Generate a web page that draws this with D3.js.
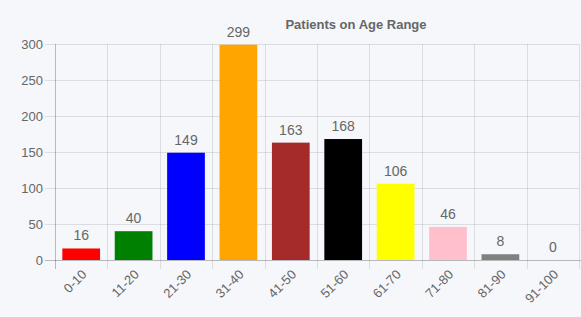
<!DOCTYPE html>
<html>
<head>
<meta charset="utf-8">
<script src="https://cdn.jsdelivr.net/npm/d3@7"></script>
<style>
  html, body { margin: 0; padding: 0; background: #f5f7fb; }
  svg { display: block; }
  text { font-family: "Liberation Sans", Arial, sans-serif; fill: #666; }
</style>
</head>
<body>
<div id="chart"></div>
<script>
const categories = ['0-10', '11-20', '21-30', '31-40', '41-50', '51-60', '61-70', '71-80', '81-90', '91-100'];
const patients = [16, 40, 149, 299, 163, 168, 106, 46, 8, 0];
const barColors = ['red', 'green', 'blue', 'orange', 'brown', 'black', 'yellow', 'pink', 'gray', 'gray'];
const yTicks = [0, 50, 100, 150, 200, 250, 300];

const W = 581, H = 317;
const mLeft = 55, mRight = 579, mTop = 44, mBottom = 260;

const svg = d3.select('#chart').append('svg').attr('width', W).attr('height', H);

const x = d3.scaleBand().domain(categories).range([mLeft, mRight]);
const y = d3.scaleLinear().domain([0, 300]).range([mBottom, mTop]);

// horizontal grid + y labels
const gy = svg.append('g');
gy.selectAll('line').data(yTicks).enter().append('line')
  .attr('x1', mLeft - 10).attr('x2', mRight)
  .attr('y1', d => y(d) + 0.5).attr('y2', d => y(d) + 0.5)
  .attr('stroke', d => d === 0 ? 'rgba(0,0,0,0.25)' : 'rgba(0,0,0,0.1)');
gy.selectAll('text').data(yTicks).enter().append('text')
  .attr('x', mLeft - 12).attr('y', d => y(d))
  .attr('dy', '0.35em').attr('text-anchor', 'end')
  .style('font-size', '13px')
  .text(d => d);
svg.append('line')
  .attr('x1', mRight).attr('x2', W)
  .attr('y1', mBottom + 0.5).attr('y2', mBottom + 0.5)
  .attr('stroke', 'rgba(0,0,0,0.25)');

// vertical grid at category boundaries
const bounds = categories.map(c => x(c)).concat([mRight]);
svg.append('g').selectAll('line').data(bounds).enter().append('line')
  .attr('x1', d => Math.round(d) + 0.5).attr('x2', d => Math.round(d) + 0.5)
  .attr('y1', mTop).attr('y2', mBottom + 9)
  .attr('stroke', (d, i) => i === 0 ? 'rgba(0,0,0,0.25)' : 'rgba(0,0,0,0.1)');

// bars
const bw = x.bandwidth() * 0.72;
svg.append('g').selectAll('rect').data(patients).enter().append('rect')
  .attr('x', (d, i) => x(categories[i]) + (x.bandwidth() - bw) / 2)
  .attr('y', d => y(d))
  .attr('width', bw)
  .attr('height', d => mBottom - y(d))
  .attr('fill', (d, i) => barColors[i]);

// value labels
svg.append('g').selectAll('text').data(patients).enter().append('text')
  .attr('x', (d, i) => x(categories[i]) + x.bandwidth() / 2)
  .attr('y', d => y(d) - 8)
  .attr('text-anchor', 'middle')
  .style('font-size', '14px')
  .text(d => d);

// x labels rotated
svg.append('g').selectAll('text').data(categories).enter().append('text')
  .attr('transform', d => `translate(${x(d) + x.bandwidth() / 2 + 3},${mBottom + 12}) rotate(-45)`)
  .attr('text-anchor', 'end')
  .attr('dy', '0.35em')
  .style('font-size', '13px')
  .text(d => d);

// title
svg.append('text')
  .attr('x', 356).attr('y', 29)
  .attr('text-anchor', 'middle')
  .style('font-size', '13px').style('font-weight', 'bold')
  .text('Patients on Age Range');
</script>
</body>
</html>
